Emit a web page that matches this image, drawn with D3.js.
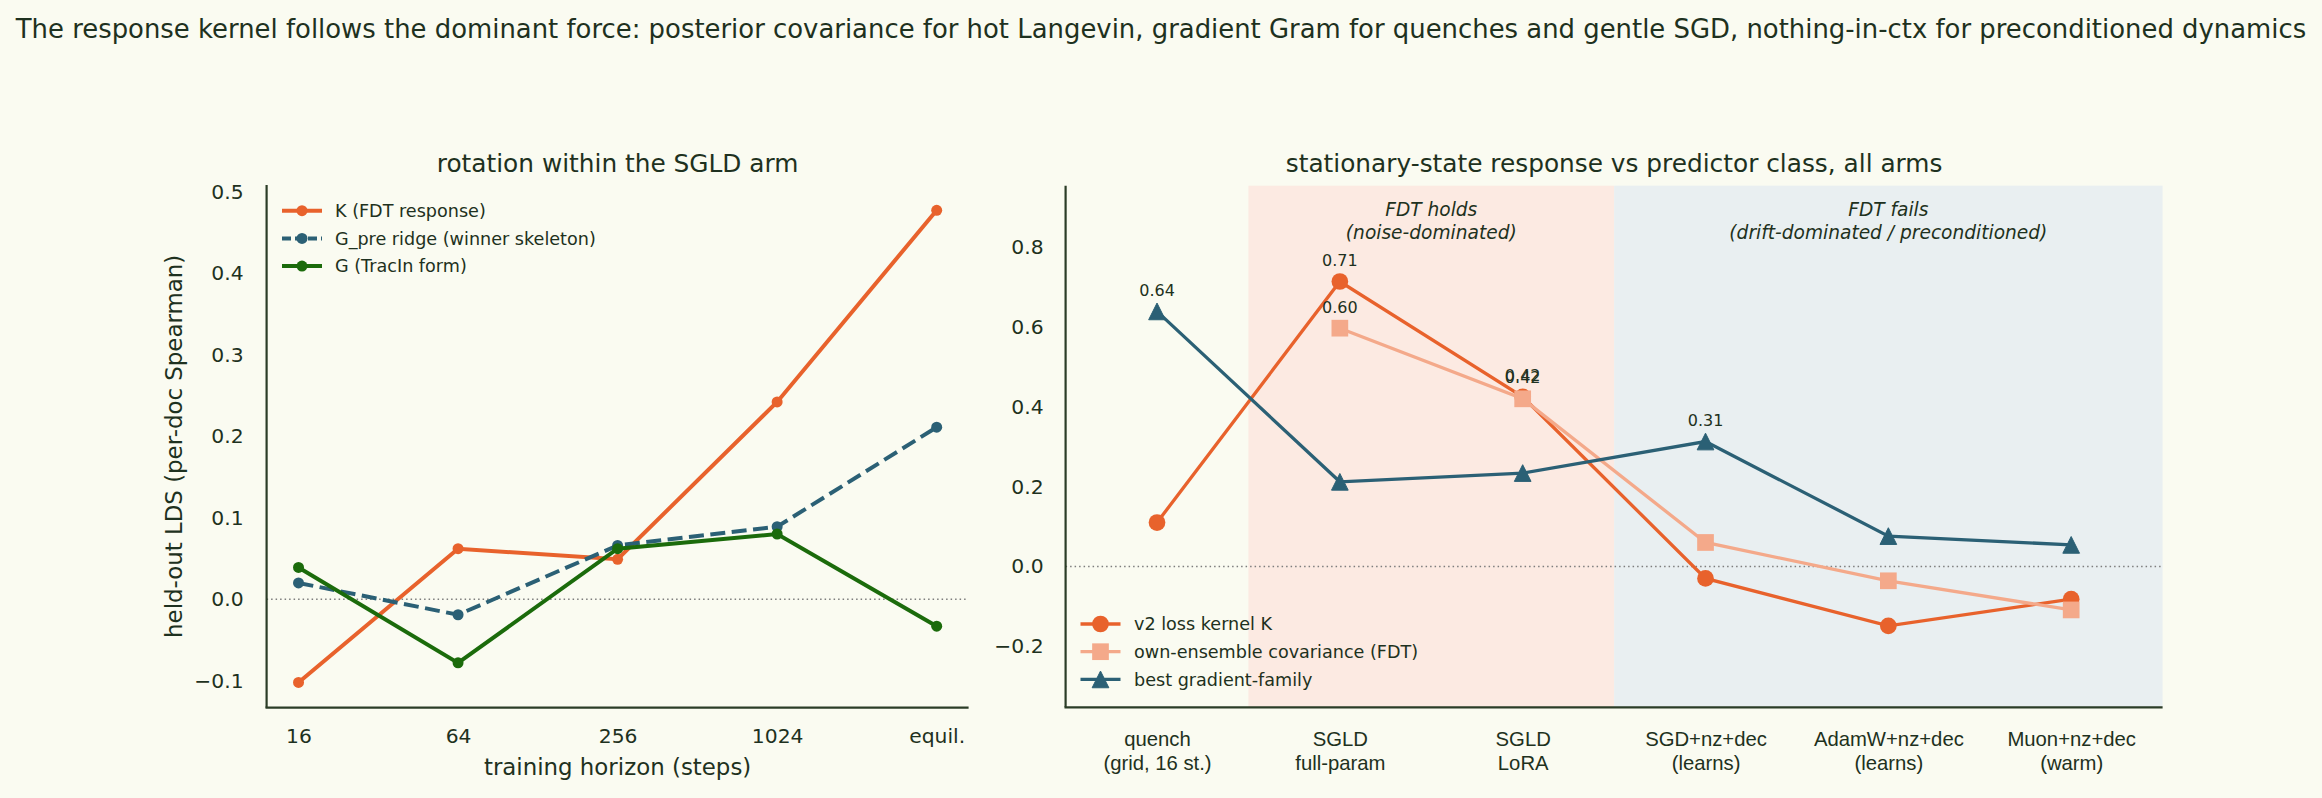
<!DOCTYPE html>
<html>
<head>
<meta charset="utf-8">
<script src="https://cdn.jsdelivr.net/npm/d3@7"></script>
<style>
  body { margin: 0; background: #FAFBF1; }
  svg { display: block; font-family: "DejaVu Sans", sans-serif; }
  text { fill: #1E3120; }
</style>
</head>
<body>
<div id="chart"></div>
<script>
// ---- data: left panel ----
var horizons = ["16", "64", "256", "1024", "equil."]
var kResponse = [-0.102, 0.062, 0.049, 0.242, 0.477]
var gPreRidge = [0.020, -0.019, 0.066, 0.089, 0.211]
var gTracin = [0.039, -0.078, 0.062, 0.080, -0.033]
var leftSeriesNames = ["K (FDT response)", "G_pre ridge (winner skeleton)", "G (TracIn form)"]
var leftTicks = [-0.1, 0.0, 0.1, 0.2, 0.3, 0.4, 0.5]

// ---- data: right panel ----
var arms = [["quench", "(grid, 16 st.)"], ["SGLD", "full-param"], ["SGLD", "LoRA"],
  ["SGD+nz+dec", "(learns)"], ["AdamW+nz+dec", "(learns)"], ["Muon+nz+dec", "(warm)"]]
var lossKernel = [0.110, 0.714, 0.425, -0.030, -0.149, -0.082]
var ownEnsemble = [null, 0.597, 0.420, 0.060, -0.036, -0.109]
var bestGradient = [0.639, 0.212, 0.234, 0.313, 0.076, 0.054]
var rightSeriesNames = ["v2 loss kernel K", "own-ensemble covariance (FDT)", "best gradient-family"]
var rightTicks = [-0.2, 0.0, 0.2, 0.4, 0.6, 0.8]
// which points carry a value label: [series, index]
var labelled = [["grad", 0], ["K", 1], ["FDT", 1], ["K", 2], ["FDT", 2], ["grad", 3]]
var regimes = [
  {from: 0.5, to: 2.5, fill: "#FCEAE2", lines: ["FDT holds", "(noise-dominated)"]},
  {from: 2.5, to: 5.5, fill: "#E9EFF1", lines: ["FDT fails", "(drift-dominated / preconditioned)"]}
]

var colOrange = "#E8622C", colSalmon = "#F4A98A", colBlue = "#2B6075", colGreen = "#1B6B0B"
var spineColor = "#2B3D27"
var tickFont = "20.3px", legendFont = "17.6px"
var fmt = v => d3.format(".1f")(v).replace("-", "\u2212")

var width = 2322, height = 798
var svg = d3.select("#chart").append("svg")
  .attr("width", width).attr("height", height)

svg.append("rect").attr("width", width).attr("height", height).attr("fill", "#FAFBF1")

svg.append("text")
  .attr("x", width / 2).attr("y", 37.5)
  .attr("text-anchor", "middle")
  .style("font-size", "25.9px")
  .text("The response kernel follows the dominant force: posterior covariance for hot Langevin, gradient Gram for quenches and gentle SGD, nothing-in-ctx for preconditioned dynamics")

function spines(g, x0, x1, y0, y1) {
  g.append("line").attr("x1", x0).attr("x2", x0).attr("y1", y0).attr("y2", y1)
    .attr("stroke", spineColor).attr("stroke-width", 2.2)
  g.append("line").attr("x1", x0 - 1.1).attr("x2", x1).attr("y1", y1).attr("y2", y1)
    .attr("stroke", spineColor).attr("stroke-width", 2.2)
}

// ================= left panel =================
var L = {x0: 266.6, x1: 968.6, y0: 185, y1: 707.7}
var xL = d3.scaleLinear().domain([-0.2, 4.2]).range([L.x0, L.x1])
var yL = d3.scaleLinear().domain([-0.133, 0.508]).range([L.y1, L.y0])
var gL = svg.append("g")

gL.append("g")
  .attr("transform", `translate(${L.x0},0)`)
  .call(d3.axisLeft(yL).tickValues(leftTicks).tickFormat(fmt).tickSize(0).tickPadding(23))
  .call(g => g.select(".domain").remove())
  .selectAll("text").style("font-size", tickFont).style("font-family", "DejaVu Sans")

gL.append("g")
  .attr("transform", `translate(0,${L.y1})`)
  .call(d3.axisBottom(xL).tickValues(d3.range(horizons.length)).tickFormat(i => horizons[i]).tickSize(0).tickPadding(21))
  .call(g => g.select(".domain").remove())
  .selectAll("text").style("font-size", tickFont).style("font-family", "DejaVu Sans")

gL.append("line")
  .attr("x1", L.x0).attr("x2", L.x1).attr("y1", yL(0)).attr("y2", yL(0))
  .attr("stroke", "#7d7d7d").attr("stroke-width", 1.5).attr("stroke-dasharray", "1.5,3")

var leftSeries = [
  {vals: kResponse, color: colOrange, dash: null},
  {vals: gPreRidge, color: colBlue, dash: "15,6.5"},
  {vals: gTracin, color: colGreen, dash: null}
]
var lineL = d3.line().x((d, i) => xL(i)).y(d => yL(d))
leftSeries.forEach(s => {
  gL.append("path").datum(s.vals)
    .attr("d", lineL).attr("fill", "none")
    .attr("stroke", s.color).attr("stroke-width", 4)
    .attr("stroke-dasharray", s.dash)
  gL.selectAll(null).data(s.vals).enter().append("circle")
    .attr("cx", (d, i) => xL(i)).attr("cy", d => yL(d))
    .attr("r", 5.5).attr("fill", s.color)
})

spines(gL, L.x0, L.x1, L.y0, L.y1)

gL.append("text")
  .attr("x", (L.x0 + L.x1) / 2).attr("y", 172)
  .attr("text-anchor", "middle").style("font-size", "24.8px")
  .text("rotation within the SGLD arm")

gL.append("text")
  .attr("x", (L.x0 + L.x1) / 2).attr("y", 775)
  .attr("text-anchor", "middle").style("font-size", "22.9px")
  .text("training horizon (steps)")

gL.append("text")
  .attr("transform", `translate(182,${(L.y0 + L.y1) / 2}) rotate(-90)`)
  .attr("text-anchor", "middle").style("font-size", "22.9px")
  .text("held-out LDS (per-doc Spearman)")

// left legend
leftSeries.forEach((s, i) => {
  var y = 210.7 + i * 27.7
  gL.append("line").attr("x1", 282).attr("x2", 322).attr("y1", y).attr("y2", y)
    .attr("stroke", s.color).attr("stroke-width", 4)
    .attr("stroke-dasharray", s.dash ? "9,4" : null)
  gL.append("circle").attr("cx", 302).attr("cy", y).attr("r", 5.5).attr("fill", s.color)
  gL.append("text").attr("x", 335).attr("y", y + 6.3)
    .style("font-size", legendFont).text(leftSeriesNames[i])
})

// ================= right panel =================
var R = {x0: 1065.6, x1: 2162.6, y0: 185.7, y1: 707.3}
var xR = d3.scaleLinear().domain([-0.5, 5.5]).range([R.x0, R.x1])
var yR = d3.scaleLinear().domain([-0.353, 0.954]).range([R.y1, R.y0])
var gR = svg.append("g")

regimes.forEach(r => {
  gR.append("rect")
    .attr("x", xR(r.from)).attr("width", xR(r.to) - xR(r.from))
    .attr("y", R.y0).attr("height", R.y1 - R.y0)
    .attr("fill", r.fill)
  r.lines.forEach((t, j) => {
    gR.append("text")
      .attr("x", xR((r.from + r.to) / 2)).attr("y", 216 + j * 23)
      .attr("text-anchor", "middle").style("font-size", "18.6px").style("font-style", "italic")
      .text(t)
  })
})

gR.append("g")
  .attr("transform", `translate(${R.x0},0)`)
  .call(d3.axisLeft(yR).tickValues(rightTicks).tickFormat(fmt).tickSize(0).tickPadding(22))
  .call(g => g.select(".domain").remove())
  .selectAll("text").style("font-size", tickFont).style("font-family", "DejaVu Sans")

var xAxisR = gR.append("g")
  .attr("transform", `translate(0,${R.y1})`)
  .call(d3.axisBottom(xR).tickValues(d3.range(arms.length)).tickFormat("").tickSize(0))
  .call(g => g.select(".domain").remove())
xAxisR.selectAll(".tick").append("text")
  .attr("text-anchor", "middle").style("font-size", tickFont).attr("fill", "#1E3120")
  .each(function(i) {
    var t = d3.select(this)
    arms[i].forEach((line, j) => {
      t.append("tspan").attr("x", 0).attr("y", 38.3 + j * 24.2).text(line)
    })
  })

gR.append("line")
  .attr("x1", R.x0).attr("x2", R.x1).attr("y1", yR(0)).attr("y2", yR(0))
  .attr("stroke", "#7d7d7d").attr("stroke-width", 1.5).attr("stroke-dasharray", "1.5,3")

var ms = 16.7
function marker(g, shape, cx, cy, color) {
  if (shape === "circle") {
    g.append("circle").attr("cx", cx).attr("cy", cy).attr("r", ms / 2).attr("fill", color)
  } else if (shape === "square") {
    g.append("rect").attr("x", cx - ms / 2).attr("y", cy - ms / 2)
      .attr("width", ms).attr("height", ms).attr("fill", color)
  } else {
    g.append("path")
      .attr("d", `M${cx},${cy - ms / 2}L${cx - ms / 2},${cy + ms / 2}L${cx + ms / 2},${cy + ms / 2}Z`)
      .attr("fill", color).attr("stroke", color).attr("stroke-width", 1).attr("stroke-linejoin", "miter")
  }
}

var rightSeries = [
  {key: "K", vals: lossKernel, color: colOrange, shape: "circle"},
  {key: "FDT", vals: ownEnsemble, color: colSalmon, shape: "square"},
  {key: "grad", vals: bestGradient, color: colBlue, shape: "triangle"}
]
var lineR = d3.line().defined(d => d != null).x((d, i) => xR(i)).y(d => yR(d))
rightSeries.forEach(s => {
  gR.append("path").datum(s.vals)
    .attr("d", lineR).attr("fill", "none")
    .attr("stroke", s.color).attr("stroke-width", 3.3)
  s.vals.forEach((v, i) => {
    if (v != null) marker(gR, s.shape, xR(i), yR(v), s.color)
  })
})

labelled.forEach(([key, i]) => {
  var v = rightSeries.find(s => s.key === key).vals[i]
  gR.append("text")
    .attr("x", xR(i)).attr("y", yR(v) - 15.5)
    .attr("text-anchor", "middle").style("font-size", "16px")
    .text(d3.format(".2f")(v))
})

spines(gR, R.x0, R.x1, R.y0, R.y1)

gR.append("text")
  .attr("x", (R.x0 + R.x1) / 2).attr("y", 172)
  .attr("text-anchor", "middle").style("font-size", "24.8px")
  .text("stationary-state response vs predictor class, all arms")

// right legend
rightSeries.forEach((s, i) => {
  var y = 624 + i * 27.7
  gR.append("line").attr("x1", 1080.5).attr("x2", 1120.5).attr("y1", y).attr("y2", y)
    .attr("stroke", s.color).attr("stroke-width", 3.3)
  marker(gR, s.shape, 1100.5, y, s.color)
  gR.append("text").attr("x", 1134).attr("y", y + 6.3)
    .style("font-size", legendFont).text(rightSeriesNames[i])
})
</script>
</body>
</html>
